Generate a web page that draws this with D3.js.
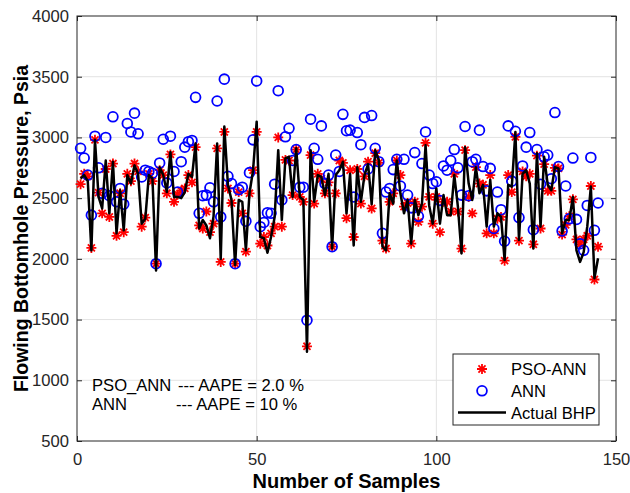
<!DOCTYPE html>
<html>
<head>
<meta charset="utf-8">
<script src="https://cdn.jsdelivr.net/npm/d3@7"></script>
<style>
  body { margin: 0; background: #fff; }
  svg { font-family: "Liberation Sans", Arial, Helvetica, sans-serif; }
</style>
</head>
<body>
<div id="chart-area"></div>
<script>
// Actual bottomhole pressure, samples 1..145
const actualBHP = [2660, 2690, 2640, 2070, 2980, 2510, 2415, 2810, 2375, 2800,
  2210, 2565, 2235, 2690, 2620, 2770, 2700, 2290, 2330, 2690,
  2660, 1905, 2755, 2690, 2550, 2880, 2510, 2510, 2500, 2550,
  2700, 2675, 2950, 2250, 2320, 2275, 2170, 2350, 2950, 2000,
  3090, 2610, 2485, 1950, 2485, 2470, 2070, 2540, 2730, 3130,
  2180, 2170, 2050, 2180, 2345, 2895, 2320, 2830, 2840, 2510,
  2910, 2510, 2485, 1235, 2895, 2470, 2690, 2675, 2525, 2700,
  2085, 2690, 2730, 2800, 2375, 2700, 2110, 2755, 2470, 2690,
  2780, 2450, 2895, 2810, 2100, 2070, 2540, 2455, 2810, 2540,
  2375, 2485, 2125, 2485, 2360, 2455, 2935, 2440, 2290, 2580,
  2290, 2525, 2360, 2360, 2690, 2430, 2045, 2920, 2620, 2485,
  2755, 2540, 2610, 2265, 2650, 2265, 2375, 2345, 1990, 2610,
  2595, 3045, 2155, 2700, 2730, 2620, 2085, 2870, 2265, 2840,
  2610, 2565, 2755, 2745, 2210, 2320, 2320, 2510, 2070, 1975,
  2055, 2265, 2595, 1840, 2005]

// PSO-ANN predictions
const psoAnn = [2615, 2700, 2680, 2090, 2980, 2545, 2375, 2740, 2345, 2785,
  2190, 2540, 2220, 2700, 2640, 2785, 2720, 2265, 2340, 2700,
  2640, 1960, 2730, 2690, 2540, 2860, 2470, 2530, 2560, 2580,
  2690, 2630, 2920, 2275, 2250, 2390, 2220, 2290, 2910, 1975,
  3045, 2580, 2460, 1960, 2550, 2375, 2060, 2540, 2730, 3045,
  2125, 2180, 2110, 2210, 2265, 3000, 2265, 2815, 2810, 2525,
  2900, 2510, 2470, 1280, 2855, 2455, 2700, 2660, 2540, 2630,
  2100, 2540, 2810, 2790, 2335, 2730, 2180, 2740, 2455, 2680,
  2800, 2415, 2870, 2790, 2150, 2085, 2470, 2540, 2810, 2690,
  2430, 2460, 2125, 2470, 2305, 2430, 2955, 2510, 2290, 2510,
  2220, 2470, 2470, 2390, 2700, 2390, 2085, 2895, 2510, 2375,
  2755, 2620, 2610, 2210, 2690, 2210, 2330, 2345, 1985, 2690,
  2550, 3005, 2150, 2720, 2680, 2700, 2120, 2850, 2250, 2780,
  2560, 2560, 2750, 2745, 2200, 2280, 2350, 2490, 2160, 2120,
  2160, 2190, 2600, 1830, 2100]

// ANN predictions
const annPred = [2910, 2830, 2690, 2360, 3010, 2750, 2540, 3000, 2520, 3170,
  2470, 2580, 2450, 3115, 3045, 3200, 3030, 2675, 2730, 2720,
  2705, 1960, 2790, 2985, 2625, 3010, 2720, 2550, 2800, 2920,
  2965, 2975, 3330, 2375, 2520, 2525, 2585, 2470, 3300, 2345,
  3480, 2680, 2620, 1960, 2570, 2590, 2310, 2710, 2980, 3465,
  2265, 2300, 2380, 2375, 2615, 3385, 2485, 3005, 3075, 2810,
  2900, 2590, 2590, 1495, 3150, 2910, 2820, 3095, 2620, 2690,
  2100, 2855, 2720, 3190, 3055, 3060, 2510, 3040, 2940, 3165,
  2740, 3180, 2910, 2800, 2210, 2550, 2580, 2735, 2820, 2600,
  2820, 2525, 2420, 2875, 2350, 2785, 3045, 2690, 2620, 2635,
  2480, 2765, 2730, 2810, 2900, 2750, 2525, 3090, 2520, 2800,
  2820, 3060, 2760, 2560, 2745, 2250, 2550, 2405, 2145, 3095,
  2640, 3050, 2340, 2765, 2920, 3040, 2240, 2900, 2615, 2840,
  2855, 2660, 3205, 2760, 2230, 2600, 2330, 2830, 2325, 2125,
  2070, 2440, 2835, 2235, 2460]

const xTicks = [0, 50, 100, 150]
const yTicks = [500, 1000, 1500, 2000, 2500, 3000, 3500, 4000]
const seriesNames = ["PSO-ANN", "ANN", "Actual BHP"]
const notes = [["PSO_ANN", "--- AAPE = 2.0 %"], ["ANN", "--- AAPE = 10 %"]]

const samples = actualBHP.map((d, i) => i + 1)

// Set up margins
const MARGINS = { TOP: 16, BOTTOM: 52, LEFT: 77, RIGHT: 14 }
const WIDTH = 630 - MARGINS.LEFT - MARGINS.RIGHT
const HEIGHT = 493 - MARGINS.TOP - MARGINS.BOTTOM
const FONT = "16.6px"

const svg = d3.select("#chart-area").append("svg")
  .attr("width", 630)
  .attr("height", 493)

const g = svg.append("g")
  .attr("transform", `translate(${MARGINS.LEFT}, ${MARGINS.TOP})`)

// Scales
const x = d3.scaleLinear().domain([0, 150]).range([0, WIDTH])
const y = d3.scaleLinear().domain([500, 4000]).range([HEIGHT, 0])

// Grid lines
g.append("g")
  .attr("class", "grid")
  .selectAll("line")
  .data(xTicks.slice(1, -1))
  .enter().append("line")
  .attr("x1", d => x(d)).attr("x2", d => x(d))
  .attr("y1", 0).attr("y2", HEIGHT)
  .attr("stroke", "#e3e3e3").attr("stroke-width", 1)

g.append("g")
  .attr("class", "grid")
  .selectAll("line")
  .data(yTicks.slice(1, -1))
  .enter().append("line")
  .attr("x1", 0).attr("x2", WIDTH)
  .attr("y1", d => y(d)).attr("y2", d => y(d))
  .attr("stroke", "#e3e3e3").attr("stroke-width", 1)

// Axes (MATLAB style: ticks inside, on all four sides)
const axisColor = "#262626"
const xAxisCall = d3.axisBottom(x).tickValues(xTicks).tickSize(-5).tickPadding(12)
  .tickFormat(d3.format("d"))
const yAxisCall = d3.axisLeft(y).tickValues(yTicks).tickSize(-5).tickPadding(8)
  .tickFormat(d3.format("d"))

g.append("g")
  .attr("transform", `translate(0, ${HEIGHT})`)
  .call(xAxisCall)
g.append("g").call(yAxisCall)

g.append("g")
  .call(d3.axisTop(x).tickValues(xTicks).tickSize(-5).tickFormat(""))
g.append("g")
  .attr("transform", `translate(${WIDTH}, 0)`)
  .call(d3.axisRight(y).tickValues(yTicks).tickSize(-5).tickFormat(""))

g.selectAll(".domain").remove()
g.selectAll(".tick line").attr("stroke", axisColor).attr("stroke-width", 1)
g.selectAll(".tick text")
  .attr("fill", axisColor)
  .attr("font-size", FONT)

g.append("rect")
  .attr("width", WIDTH).attr("height", HEIGHT)
  .attr("fill", "none")
  .attr("stroke", axisColor).attr("stroke-width", 1)

// Axis labels
svg.append("text")
  .attr("x", MARGINS.LEFT + WIDTH / 2)
  .attr("y", 488)
  .attr("text-anchor", "middle")
  .attr("font-size", "20px")
  .attr("font-weight", "bold")
  .attr("fill", "#000")
  .text("Number of Samples")

svg.append("text")
  .attr("transform", `translate(28, ${MARGINS.TOP + HEIGHT / 2}) rotate(-90)`)
  .attr("text-anchor", "middle")
  .attr("font-size", "19.5px")
  .attr("font-weight", "bold")
  .attr("fill", "#000")
  .text("Flowing Bottomhole Pressure, Psia")

// Asterisk marker path
const star = r => {
  const a = r * Math.SQRT1_2
  return `M${-r},0L${r},0M0,${-r}L0,${r}M${-a},${-a}L${a},${a}M${-a},${a}L${a},${-a}`
}

const plot = g.append("g")

// PSO-ANN asterisks
plot.selectAll("path.pso")
  .data(samples)
  .enter().append("path")
  .attr("class", "pso")
  .attr("transform", d => `translate(${x(d)}, ${y(psoAnn[d - 1])})`)
  .attr("d", star(5))
  .attr("stroke", "#ff0000")
  .attr("stroke-width", 1.8)
  .attr("fill", "none")

// ANN circles
plot.selectAll("circle.ann")
  .data(samples)
  .enter().append("circle")
  .attr("class", "ann")
  .attr("cx", d => x(d))
  .attr("cy", d => y(annPred[d - 1]))
  .attr("r", 4.9)
  .attr("fill", "none")
  .attr("stroke", "#0000ff")
  .attr("stroke-width", 1.8)

// Actual BHP line
const line = d3.line()
  .x(d => x(d))
  .y(d => y(actualBHP[d - 1]))

plot.append("path")
  .datum(samples)
  .attr("d", line)
  .attr("fill", "none")
  .attr("stroke", "#000")
  .attr("stroke-width", 2.5)
  .attr("stroke-linejoin", "round")

// AAPE notes
notes.forEach((n, i) => {
  const t = g.append("text")
    .attr("y", 391 - MARGINS.TOP + i * 19)
    .attr("font-size", FONT)
    .attr("fill", "#000")
  t.append("tspan").attr("x", 92 - MARGINS.LEFT).text(n[0])
  t.append("tspan").attr("x", (i === 0 ? 178 : 176) - MARGINS.LEFT).text(n[1])
})

// Legend
const legend = svg.append("g")
  .attr("transform", "translate(453, 354)")

legend.append("rect")
  .attr("width", 146).attr("height", 71)
  .attr("fill", "#fff")
  .attr("stroke", axisColor).attr("stroke-width", 1)

seriesNames.forEach((name, i) => {
  const row = legend.append("g")
    .attr("transform", `translate(0, ${15 + i * 21.8})`)
  if (i === 0) {
    row.append("path")
      .attr("transform", "translate(29, 0)")
      .attr("d", star(5))
      .attr("stroke", "#ff0000").attr("stroke-width", 1.8)
  } else if (i === 1) {
    row.append("circle")
      .attr("cx", 29).attr("r", 4.9)
      .attr("fill", "none")
      .attr("stroke", "#0000ff").attr("stroke-width", 1.8)
  } else {
    row.append("line")
      .attr("x1", 5).attr("x2", 53)
      .attr("stroke", "#000").attr("stroke-width", 2.5)
  }
  row.append("text")
    .attr("x", 58)
    .attr("y", 6)
    .attr("font-size", FONT)
    .attr("fill", "#000")
    .text(name)
})
</script>
</body>
</html>
